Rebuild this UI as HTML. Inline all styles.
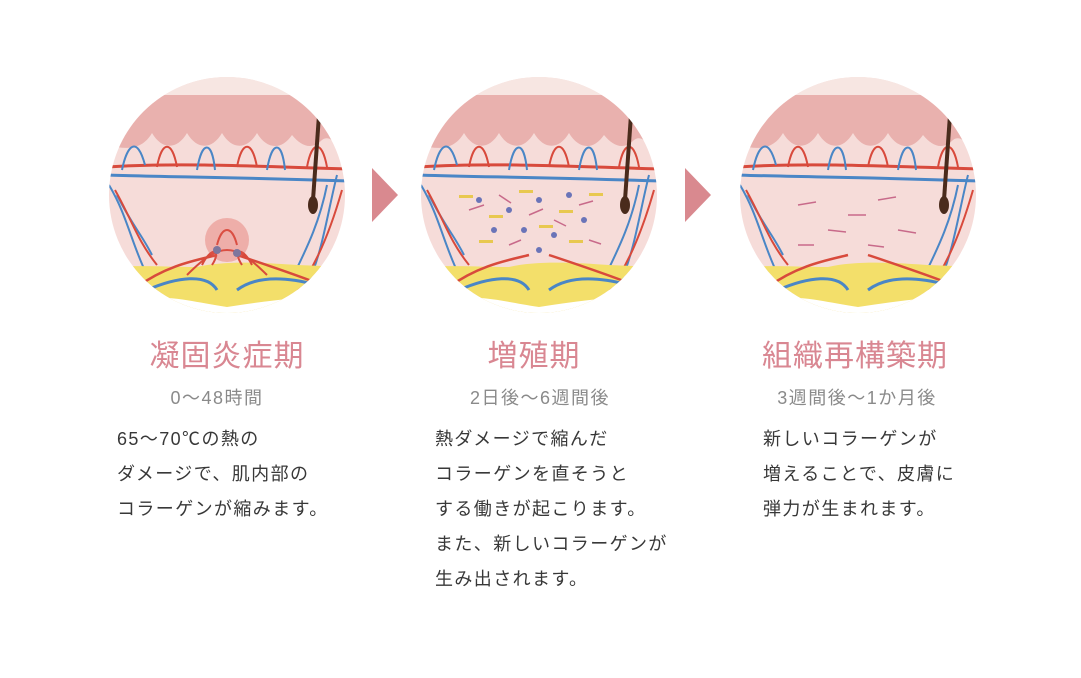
<!DOCTYPE html>
<html><head><meta charset="utf-8">
<style>
body{margin:0;background:#fff;width:1081px;height:678px;overflow:hidden;position:relative;font-family:"Liberation Sans","Noto Sans CJK JP",sans-serif;}
.t{position:absolute;width:320px;text-align:center;color:#d98792;font-size:30px;line-height:34px;letter-spacing:1px}
.s{position:absolute;width:320px;text-align:center;color:#8a8a8a;font-size:18px;line-height:22px;letter-spacing:1.5px}
.b{position:absolute;color:#383838;font-size:18px;line-height:35px;white-space:nowrap;letter-spacing:1.4px}
svg{position:absolute;left:0;top:0}
</style></head><body>
<svg width="1081" height="678" viewBox="0 0 1081 678">
<defs>
<clipPath id="c"><circle cx="0" cy="0" r="118"/></clipPath>
<g id="skin">
<g clip-path="url(#c)">
<rect x="-120" y="-120" width="240" height="240" fill="#f6dcd9"/>
<rect x="-120" y="-120" width="240" height="20" fill="#f7e6e2"/>
<path d="M-120,-100 H120 V-45 C110,-45 105,-62 95,-55 C85,-45 75,-48 65,-60 C55,-45 40,-45 30,-62 C20,-45 5,-45 -5,-62 C-15,-45 -30,-45 -40,-62 C-50,-45 -65,-45 -75,-62 C-85,-45 -100,-45 -120,-50 Z" fill="#e9b1ae"/>
<path d="M-120,-28 C-60,-32 0,-30 120,-26" stroke="#d84a3c" stroke-width="3" fill="none"/>
<path d="M-120,-20 C-60,-18 0,-18 120,-14" stroke="#4a86c6" stroke-width="3" fill="none"/>
<path d="M-105,-25 C-100,-50 -90,-60 -82,-30 M-30,-25 C-25,-55 -15,-55 -12,-25 M40,-25 C45,-55 55,-55 58,-25" stroke="#4a86c6" stroke-width="2" fill="none"/>
<path d="M-70,-28 C-65,-55 -55,-55 -50,-28 M10,-28 C15,-55 25,-55 30,-28 M80,-28 C85,-55 95,-55 100,-28" stroke="#d84a3c" stroke-width="2" fill="none"/>
<path d="M-118,-10 C-100,20 -95,50 -80,80 M-110,0 C-95,30 -85,40 -75,60" stroke="#4a86c6" stroke-width="2" fill="none"/>
<path d="M-112,-5 C-95,25 -90,45 -70,70" stroke="#d84a3c" stroke-width="2" fill="none"/>
<path d="M110,-20 C100,20 95,60 80,90 M100,-10 C90,40 70,70 60,95" stroke="#4a86c6" stroke-width="2" fill="none"/>
<path d="M115,-5 C105,30 90,70 70,95" stroke="#d84a3c" stroke-width="2" fill="none"/>
<path d="M-120,72 C-80,70 -60,72 -30,72 C0,65 40,68 70,70 L120,72 V120 H-120Z" fill="#f3df6a"/>
<path d="M-120,104 C-60,98 -40,106 0,112 C40,106 80,100 120,102 V120 H-120Z" fill="#fff"/>
<path d="M-80,95 C-50,82 -20,78 -10,95 M10,95 C30,80 60,82 90,90" stroke="#4a86c6" stroke-width="3" fill="none"/>
<path d="M-90,92 C-60,70 -30,65 -10,60 M10,60 C40,70 70,80 95,90" stroke="#d84a3c" stroke-width="2.5" fill="none"/>
<path d="M92,-80 L86,5" stroke="#4a2b1c" stroke-width="4"/>
<ellipse cx="86" cy="10" rx="5" ry="9" fill="#4a2b1c"/>
</g></g>
</defs>
<g transform="translate(227,195)"><use href="#skin"/>
<g stroke="#d84a3c" stroke-width="2" fill="none"><path d="M-10,50 C-5,30 5,30 10,50 M-25,70 C-15,50 -5,55 -15,70 M25,70 C15,50 5,55 15,70 M-40,80 C-20,60 -10,55 0,55 M40,80 C20,60 10,55 0,55"/></g>
<circle cx="-10" cy="55" r="4" fill="#4a86c6"/><circle cx="10" cy="58" r="4" fill="#4a86c6"/>
<circle cx="0" cy="45" r="22" fill="#e05a50" opacity=".35"/>
</g>
<g transform="translate(539,195)"><use href="#skin"/>
<g fill="#e8c850"><rect x="-80" y="0" width="14" height="3"/><rect x="-50" y="20" width="14" height="3"/><rect x="-20" y="-5" width="14" height="3"/><rect x="20" y="15" width="14" height="3"/><rect x="50" y="-2" width="14" height="3"/><rect x="-60" y="45" width="14" height="3"/><rect x="30" y="45" width="14" height="3"/><rect x="0" y="30" width="14" height="3"/></g>
<g fill="#6a74b8"><circle cx="-60" cy="5" r="3"/><circle cx="-30" cy="15" r="3"/><circle cx="0" cy="5" r="3"/><circle cx="30" cy="0" r="3"/><circle cx="-15" cy="35" r="3"/><circle cx="15" cy="40" r="3"/><circle cx="45" cy="25" r="3"/><circle cx="-45" cy="35" r="3"/><circle cx="0" cy="55" r="3"/></g>
<g stroke="#c86a8a" stroke-width="1.5"><path d="M-70,15 l15,-5 M-40,0 l12,8 M-10,20 l14,-6 M15,25 l12,6 M40,10 l14,-4 M-30,50 l12,-5 M50,45 l12,4"/></g>
</g>
<g transform="translate(858,195)"><use href="#skin"/>
<g stroke="#c86a8a" stroke-width="1.5"><path d="M-60,10 l18,-3 M-30,35 l18,2 M20,5 l18,-3 M40,35 l18,3 M-10,20 l18,0 M-60,50 l16,0 M10,50 l16,2"/></g>
</g>
<polygon points="372,168 398,195 372,222" fill="#d9898f"/>
<polygon points="685,168 711,195 685,222" fill="#d9898f"/>
</svg>
<div class="t" style="left:67px;top:340px">凝固炎症期</div>
<div class="t" style="left:374px;top:340px">増殖期</div>
<div class="t" style="left:695px;top:340px">組織再構築期</div>
<div class="s" style="left:57px;top:387px">0〜48時間</div>
<div class="s" style="left:380px;top:387px">2日後〜6週間後</div>
<div class="s" style="left:697px;top:387px">3週間後〜1か月後</div>
<div class="b" style="left:117px;top:422px">65〜70℃の熱の<br>ダメージで、肌内部の<br>コラーゲンが縮みます。</div>
<div class="b" style="left:435px;top:422px">熱ダメージで縮んだ<br>コラーゲンを直そうと<br>する働きが起こります。<br>また、新しいコラーゲンが<br>生み出されます。</div>
<div class="b" style="left:763px;top:422px">新しいコラーゲンが<br>増えることで、皮膚に<br>弾力が生まれます。</div>
</body></html>
